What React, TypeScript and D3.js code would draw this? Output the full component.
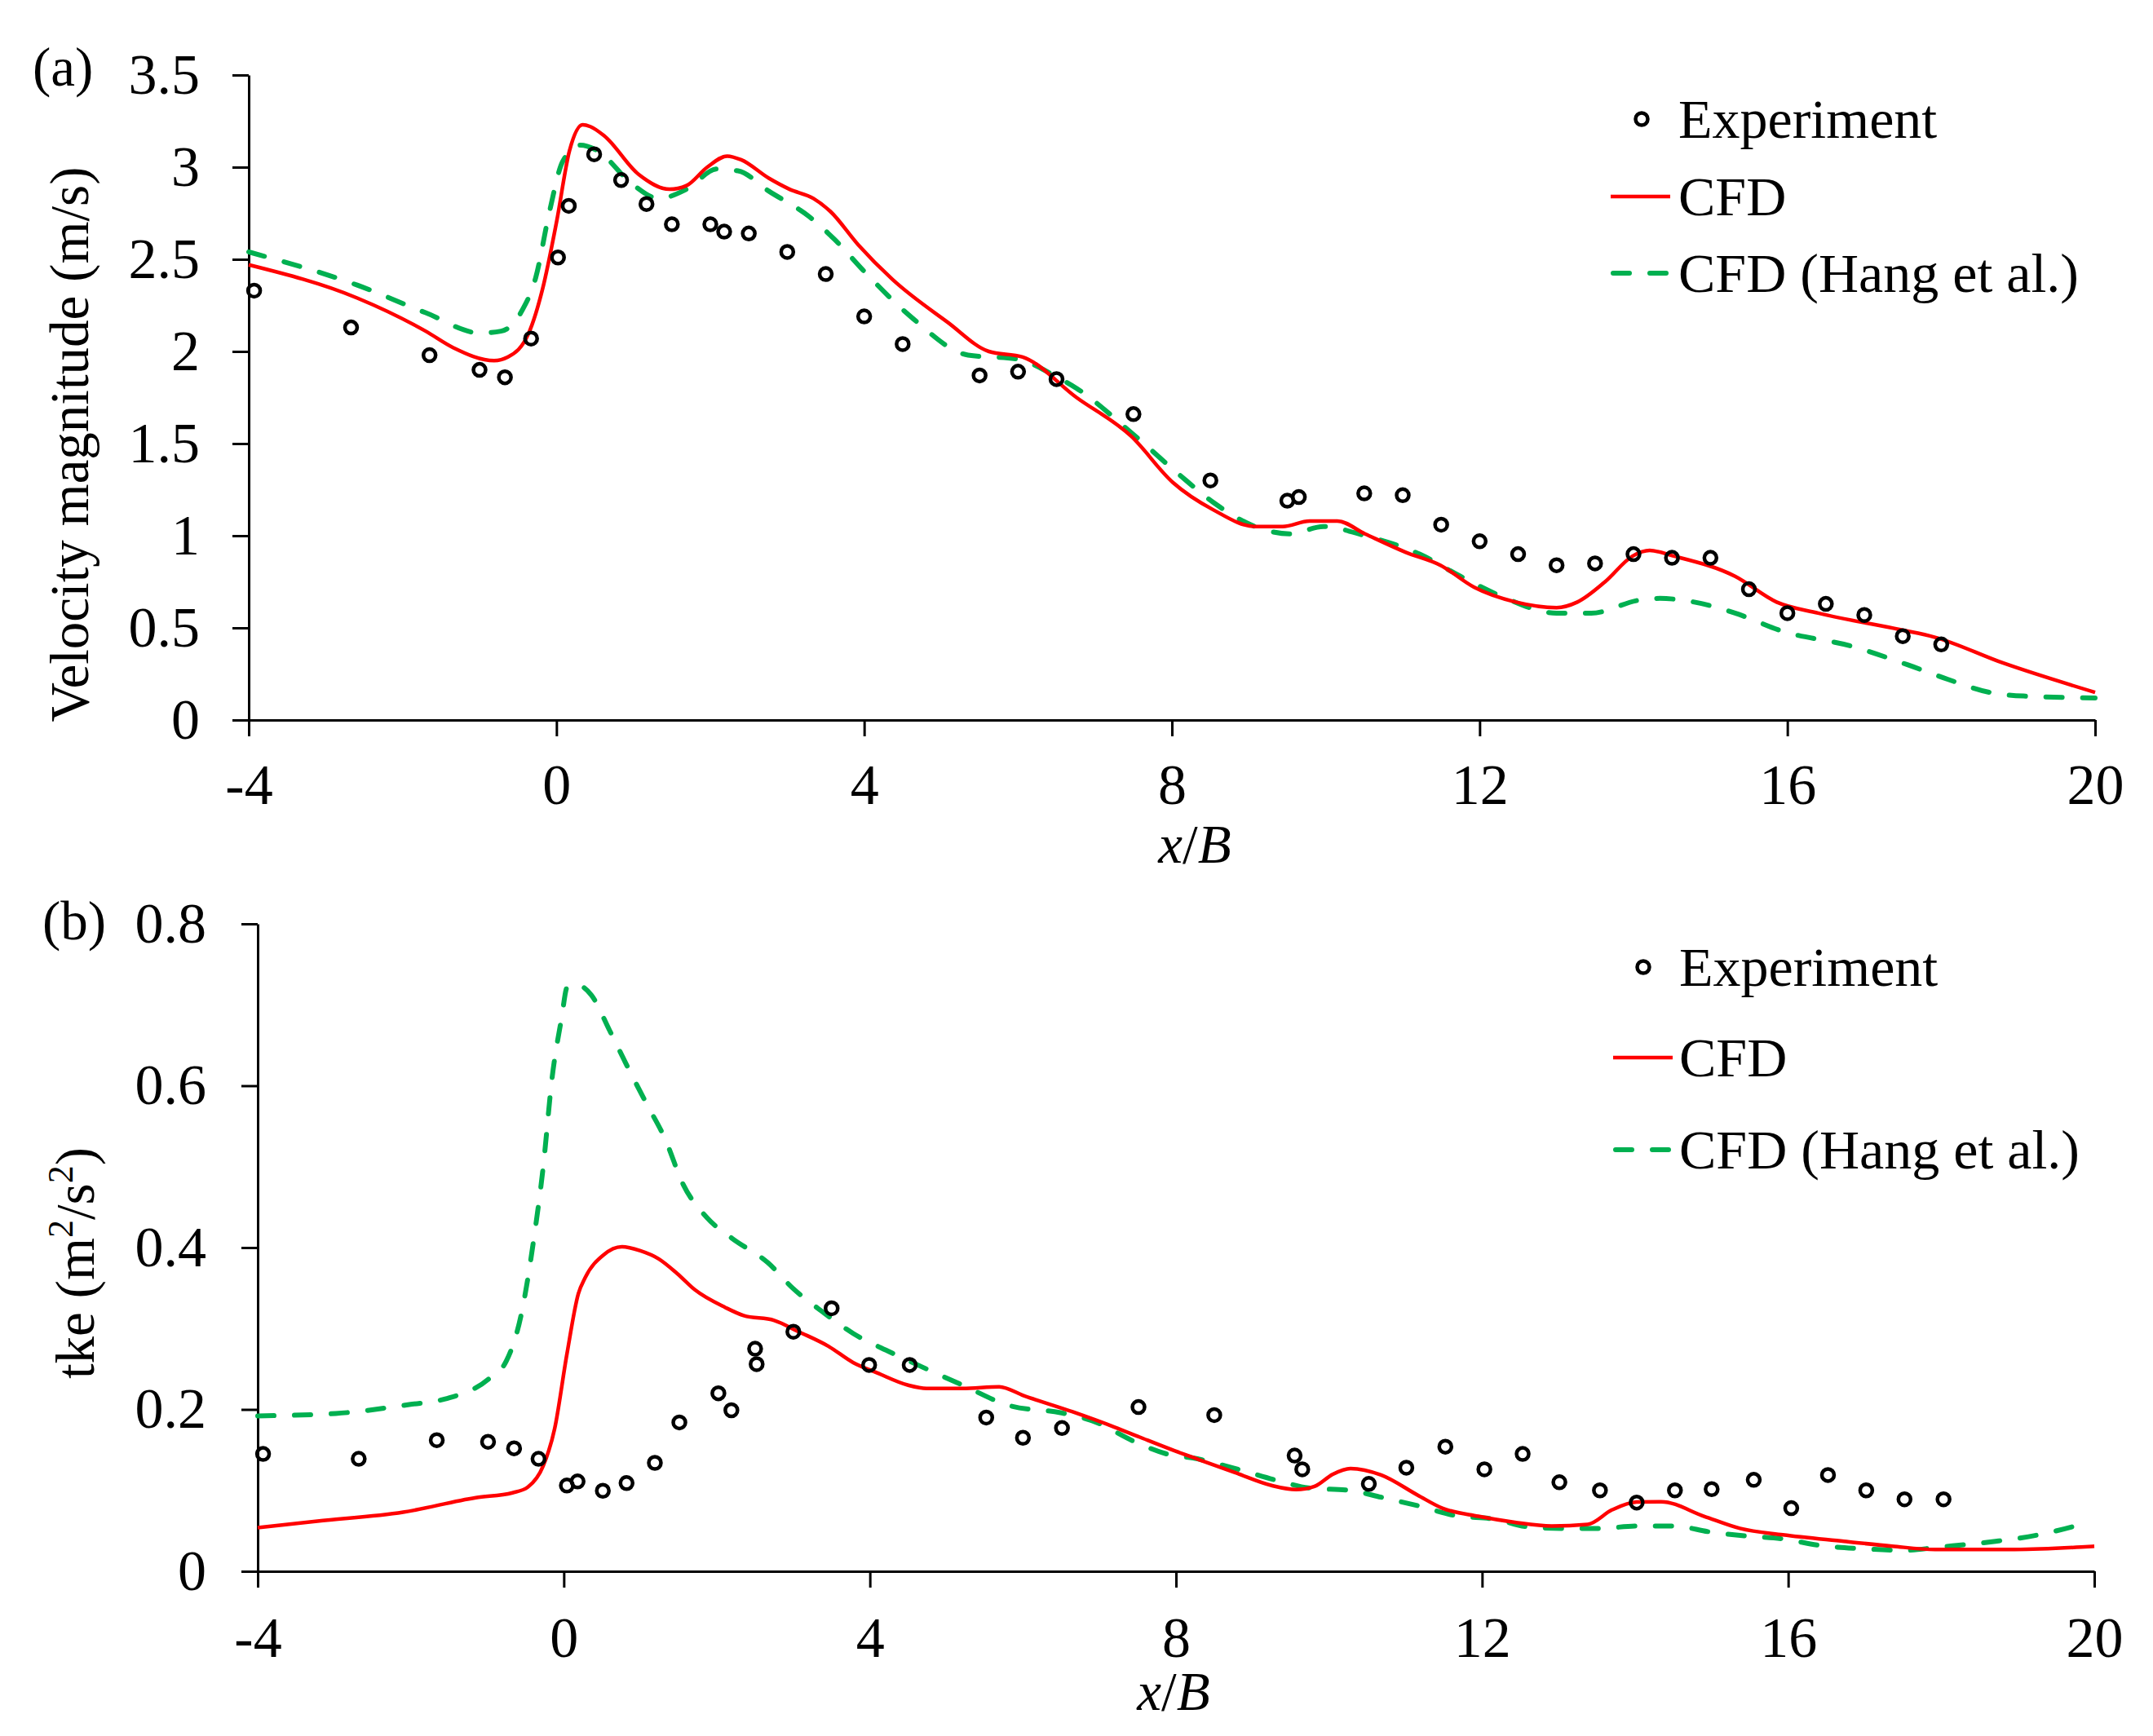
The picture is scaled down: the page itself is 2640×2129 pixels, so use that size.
import React, { useEffect, useRef } from 'react';
import * as d3 from 'd3';

const W = 2640;
const H = 2129;
const FONT = '"Liberation Serif", "Times New Roman", serif';
const RED = '#ff0000';
const GREEN = '#00b050';

const xTicks = [-4, 0, 4, 8, 12, 16, 20];
const velTicks = [0, 0.5, 1, 1.5, 2, 2.5, 3, 3.5];
const tkeTicks = [0, 0.2, 0.4, 0.6, 0.8];
const legendLabels = ['Experiment', 'CFD', 'CFD (Hang et al.)'];

// (a) velocity magnitude
const velExpX = [-3.93, -2.67, -1.65, -1.0, -0.67, -0.33, 0.02, 0.16, 0.49, 0.84, 1.17, 1.5, 2.0, 2.18, 2.5, 3.0, 3.5, 4.0, 4.5, 5.5, 6.0, 6.5, 7.5, 8.5, 9.5, 9.65, 10.5, 11.0, 11.5, 12.0, 12.5, 13.0, 13.5, 14.0, 14.5, 15.0, 15.5, 16.0, 16.5, 17.0, 17.5, 18.0];
const velExpY = [2.33, 2.13, 1.98, 1.90, 1.86, 2.07, 2.51, 2.79, 3.07, 2.93, 2.80, 2.69, 2.69, 2.65, 2.64, 2.54, 2.42, 2.19, 2.04, 1.87, 1.89, 1.85, 1.66, 1.30, 1.19, 1.21, 1.23, 1.22, 1.06, 0.97, 0.90, 0.84, 0.85, 0.90, 0.88, 0.88, 0.71, 0.58, 0.63, 0.57, 0.455, 0.41];

const velCfdX = [-4, -2.59, -1.70, -1.34, -0.81, -0.63, -0.36, -0.18, 0.0, 0.17, 0.34, 0.44, 0.62, 1.07, 1.47, 1.69, 1.96, 2.22, 2.40, 2.76, 3.03, 3.34, 3.56, 3.92, 4.37, 5.08, 5.62, 6.06, 6.76, 7.47, 8.01, 8.54, 9.08, 9.44, 9.79, 10.15, 10.51, 11.04, 11.49, 11.93, 12.47, 13.0, 13.27, 13.63, 13.99, 14.21, 14.52, 15.32, 15.86, 16.40, 17.47, 17.91, 18.8, 20.0];
const velCfdY = [2.47, 2.29, 2.11, 2.02, 1.95, 1.97, 2.10, 2.34, 2.70, 3.09, 3.23, 3.22, 3.17, 2.96, 2.88, 2.90, 3.00, 3.06, 3.04, 2.94, 2.88, 2.83, 2.76, 2.58, 2.39, 2.16, 2.00, 1.97, 1.75, 1.54, 1.29, 1.14, 1.05, 1.05, 1.08, 1.08, 1.01, 0.91, 0.84, 0.72, 0.64, 0.61, 0.64, 0.75, 0.89, 0.92, 0.89, 0.78, 0.64, 0.58, 0.49, 0.45, 0.31, 0.15];

const velHangX = [-4, -2.59, -1.70, -0.99, -0.72, -0.45, -0.27, -0.09, 0.08, 0.31, 0.53, 0.98, 1.33, 1.69, 2.09, 2.36, 2.76, 3.29, 3.61, 4.01, 4.63, 5.35, 5.97, 6.51, 6.76, 7.47, 8.10, 8.54, 9.08, 9.53, 9.97, 10.51, 11.22, 11.75, 12.29, 13.0, 13.45, 14.07, 14.34, 14.79, 15.32, 15.95, 16.84, 17.56, 18.09, 18.63, 19.07, 20.0];
const velHangY = [2.54, 2.36, 2.21, 2.10, 2.11, 2.22, 2.40, 2.76, 3.03, 3.12, 3.09, 2.91, 2.83, 2.88, 2.99, 2.98, 2.87, 2.73, 2.61, 2.43, 2.18, 1.98, 1.96, 1.86, 1.80, 1.56, 1.33, 1.18, 1.05, 1.01, 1.05, 1.00, 0.90, 0.78, 0.67, 0.58, 0.58, 0.65, 0.66, 0.64, 0.58, 0.48, 0.40, 0.30, 0.22, 0.15, 0.13, 0.12];

// (b) turbulent kinetic energy
const tkeExpX = [-3.93, -2.68, -1.66, -0.99, -0.65, -0.33, 0.04, 0.18, 0.51, 0.82, 1.19, 1.51, 2.02, 2.19, 2.50, 2.52, 3.0, 3.5, 3.99, 4.52, 5.52, 6.0, 6.51, 7.51, 8.50, 9.55, 9.65, 10.52, 11.01, 11.52, 12.03, 12.53, 13.01, 13.54, 14.02, 14.52, 15.0, 15.55, 16.04, 16.52, 17.02, 17.52, 18.03];
const tkeExpY = [0.145, 0.139, 0.162, 0.160, 0.152, 0.139, 0.106, 0.111, 0.0995, 0.109, 0.134, 0.184, 0.220, 0.199, 0.275, 0.256, 0.296, 0.325, 0.255, 0.255, 0.190, 0.165, 0.177, 0.203, 0.193, 0.143, 0.126, 0.108, 0.128, 0.154, 0.126, 0.145, 0.110, 0.100, 0.085, 0.100, 0.1015, 0.113, 0.078, 0.119, 0.100, 0.089, 0.089];

const tkeCfdX = [-4, -3.22, -2.10, -1.15, -0.67, -0.47, -0.27, -0.12, 0.04, 0.19, 0.28, 0.52, 0.76, 1.0, 1.24, 1.48, 1.71, 2.11, 2.35, 2.75, 3.07, 3.46, 3.78, 4.10, 4.50, 4.74, 5.21, 5.69, 6.01, 6.65, 7.2, 7.52, 7.98, 8.30, 8.77, 9.25, 9.57, 9.81, 10.05, 10.28, 10.68, 11.16, 11.48, 11.95, 12.43, 12.91, 13.38, 13.70, 14.02, 14.34, 14.90, 15.37, 15.93, 16.73, 17.36, 17.92, 18.96, 19.83, 20.0];
const tkeCfdY = [0.054, 0.062, 0.073, 0.091, 0.097, 0.104, 0.130, 0.176, 0.268, 0.343, 0.363, 0.391, 0.401, 0.396, 0.386, 0.368, 0.348, 0.326, 0.316, 0.310, 0.296, 0.278, 0.258, 0.245, 0.230, 0.226, 0.226, 0.228, 0.217, 0.197, 0.178, 0.166, 0.149, 0.138, 0.122, 0.106, 0.101, 0.105, 0.120, 0.127, 0.119, 0.094, 0.078, 0.068, 0.0605, 0.056, 0.058, 0.076, 0.0856, 0.086, 0.068, 0.053, 0.045, 0.037, 0.031, 0.027, 0.027, 0.030, 0.031];

const tkeHangX = [-4, -2.98, -2.02, -1.55, -0.99, -0.75, -0.55, -0.39, -0.27, -0.15, -0.03, 0.045, 0.16, 0.36, 0.60, 0.84, 1.08, 1.32, 1.56, 1.87, 2.19, 2.67, 2.99, 3.39, 3.78, 4.26, 4.74, 5.21, 5.85, 6.49, 6.96, 7.44, 7.92, 8.22, 8.77, 9.33, 9.73, 10.28, 10.68, 11.16, 11.64, 12.19, 12.59, 13.07, 13.54, 14.02, 14.50, 14.98, 15.46, 15.93, 16.41, 16.96, 17.52, 17.99, 18.71, 19.27, 19.83];
const tkeHangY = [0.192, 0.195, 0.206, 0.213, 0.237, 0.260, 0.320, 0.412, 0.499, 0.612, 0.683, 0.722, 0.725, 0.712, 0.668, 0.622, 0.578, 0.535, 0.478, 0.437, 0.412, 0.381, 0.350, 0.320, 0.294, 0.271, 0.250, 0.230, 0.204, 0.196, 0.184, 0.161, 0.144, 0.140, 0.127, 0.112, 0.103, 0.0999, 0.0915, 0.081, 0.069, 0.064, 0.055, 0.053, 0.053, 0.056, 0.056, 0.0486, 0.0435, 0.040, 0.032, 0.028, 0.026, 0.030, 0.037, 0.045, 0.058];

const zip = (xs: number[], ys: number[]) => xs.map((x, i) => [x, ys[i]] as [number, number]);

interface PanelOpts {
  x0: number; x1: number; yBottom: number; yTop: number;
  yMax: number; yTicks: number[];
  labelPad: number; xLabelPad: number;
  exp: [number, number][]; cfd: [number, number][]; hang: [number, number][];
  legend: { mx: number; lx0: number; lx1: number; tx: number; rows: number[] };
  tag: { text: string; x: number; y: number };
  xTitle: { x: number; y: number };
  yTitle: { x: number; y: number };
  yTitleText: (t: d3.Selection<SVGTextElement, unknown, null, undefined>) => void;
}

function drawPanel(svg: d3.Selection<SVGSVGElement, unknown, null, undefined>, o: PanelOpts) {
  const x = d3.scaleLinear().domain([-4, 20]).range([o.x0, o.x1]);
  const y = d3.scaleLinear().domain([0, o.yMax]).range([o.yBottom, o.yTop]);
  const g = svg.append('g');

  // Axes
  const ax = g.append('g')
    .attr('transform', `translate(0,${o.yBottom})`)
    .call(d3.axisBottom(x).tickValues(xTicks).tickSize(20).tickSizeOuter(0).tickPadding(o.xLabelPad).tickFormat(d => String(d)));
  const ay = g.append('g')
    .attr('transform', `translate(${o.x0},0)`)
    .call(d3.axisLeft(y).tickValues(o.yTicks).tickSize(20).tickSizeOuter(0).tickPadding(o.labelPad).tickFormat(d => String(d)));
  [ax, ay].forEach(a => {
    a.attr('font-family', FONT).attr('font-size', 70);
    a.select('.domain').attr('stroke', '#000').attr('stroke-width', 3);
    a.selectAll('.tick line').attr('stroke', '#000').attr('stroke-width', 3);
    a.selectAll('.tick text').attr('fill', '#000');
  });

  // Lines
  const line = d3.line<[number, number]>()
    .x(d => x(d[0]))
    .y(d => y(d[1]))
    .curve(d3.curveMonotoneX);

  g.append('path')
    .datum(o.hang)
    .attr('fill', 'none')
    .attr('stroke', GREEN)
    .attr('stroke-width', 6)
    .attr('stroke-linecap', 'round')
    .attr('stroke-dasharray', '20,25')
    .attr('d', line);

  g.append('path')
    .datum(o.cfd)
    .attr('fill', 'none')
    .attr('stroke', RED)
    .attr('stroke-width', 4.5)
    .attr('stroke-linejoin', 'round')
    .attr('d', line);

  // Experiment markers
  g.append('g')
    .selectAll('circle')
    .data(o.exp)
    .join('circle')
    .attr('cx', d => x(d[0]))
    .attr('cy', d => y(d[1]))
    .attr('r', 7.5)
    .attr('fill', 'none')
    .attr('stroke', '#000')
    .attr('stroke-width', 4.5);

  // Legend
  const lg = g.append('g').attr('font-family', FONT).attr('font-size', 68);
  const [r0, r1, r2] = o.legend.rows;
  lg.append('circle').attr('cx', o.legend.mx).attr('cy', r0).attr('r', 7.5)
    .attr('fill', 'none').attr('stroke', '#000').attr('stroke-width', 4.5);
  lg.append('line').attr('x1', o.legend.lx0).attr('x2', o.legend.lx1).attr('y1', r1).attr('y2', r1)
    .attr('stroke', RED).attr('stroke-width', 4.5);
  lg.append('line').attr('x1', o.legend.lx0 + 3).attr('x2', o.legend.lx1 - 3).attr('y1', r2).attr('y2', r2)
    .attr('stroke', GREEN).attr('stroke-width', 6).attr('stroke-linecap', 'round').attr('stroke-dasharray', '20,25');
  o.legend.rows.forEach((ry, i) => {
    lg.append('text').attr('x', o.legend.tx).attr('y', ry + 23).text(legendLabels[i]);
  });

  // Titles
  g.append('text')
    .attr('x', o.tag.x).attr('y', o.tag.y)
    .attr('font-family', FONT).attr('font-size', 67)
    .text(o.tag.text);

  const xt = g.append('text')
    .attr('x', o.xTitle.x).attr('y', o.xTitle.y)
    .attr('text-anchor', 'middle')
    .attr('font-family', FONT).attr('font-size', 67);
  xt.append('tspan').attr('font-style', 'italic').text('x');
  xt.append('tspan').text('/');
  xt.append('tspan').attr('font-style', 'italic').text('B');

  const yt = g.append('text')
    .attr('transform', `translate(${o.yTitle.x},${o.yTitle.y}) rotate(-90)`)
    .attr('text-anchor', 'middle')
    .attr('font-family', FONT).attr('font-size', 67);
  o.yTitleText(yt);
}

const ChartFigure: React.FC = () => {
  const svgRef = useRef<SVGSVGElement>(null);

  useEffect(() => {
    if (!svgRef.current) return;
    const svg = d3.select(svgRef.current);
    svg.selectAll('*').remove();

    drawPanel(svg, {
      x0: 305, x1: 2569, yBottom: 883, yTop: 92,
      yMax: 3.5, yTicks: velTicks,
      labelPad: 40, xLabelPad: 33,
      exp: zip(velExpX, velExpY), cfd: zip(velCfdX, velCfdY), hang: zip(velHangX, velHangY),
      legend: { mx: 2013, lx0: 1975, lx1: 2048, tx: 2058, rows: [146, 241, 335] },
      tag: { text: '(a)', x: 40, y: 105 },
      xTitle: { x: 1465, y: 1058 },
      yTitle: { x: 108, y: 545 },
      yTitleText: t => { t.text('Velocity magnitude (m/s)'); },
    });

    drawPanel(svg, {
      x0: 316, x1: 2568, yBottom: 1927, yTop: 1133,
      yMax: 0.8, yTicks: tkeTicks,
      labelPad: 43, xLabelPad: 35,
      exp: zip(tkeExpX, tkeExpY), cfd: zip(tkeCfdX, tkeCfdY), hang: zip(tkeHangX, tkeHangY),
      legend: { mx: 2015, lx0: 1978, lx1: 2051, tx: 2059, rows: [1186, 1297, 1410] },
      tag: { text: '(b)', x: 52, y: 1152 },
      xTitle: { x: 1439, y: 2097 },
      yTitle: { x: 115, y: 1549 },
      yTitleText: t => {
        t.append('tspan').text('tke (m');
        t.append('tspan').attr('font-size', 44).attr('dy', -26).text('2');
        t.append('tspan').attr('dy', 26).text('/s');
        t.append('tspan').attr('font-size', 44).attr('dy', -26).text('2');
        t.append('tspan').attr('dy', 26).text(')');
      },
    });
  }, []);

  return (
    <svg ref={svgRef} width={W} height={H} viewBox={`0 0 ${W} ${H}`}
      style={{ display: 'block', background: '#fff' }} />
  );
};

export default function App() {
  return (
    <div style={{ position: 'absolute', left: 0, top: 0, width: W, height: H, background: '#fff' }}>
      <ChartFigure />
    </div>
  );
}
